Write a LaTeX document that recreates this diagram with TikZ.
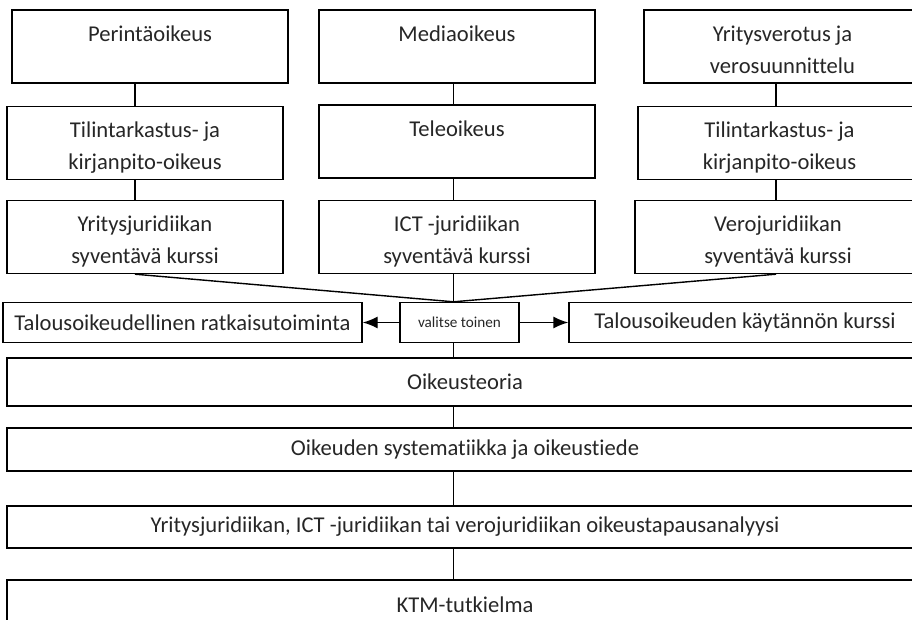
\documentclass[tikz,border=0pt]{standalone}
\usepackage{fontspec}
\setmainfont{Carlito}[Ligatures=NoCommon]
\usetikzlibrary{arrows.meta}
\newcommand{\topstrut}{\rule{0pt}{15.5pt}}

\begin{document}
\begin{tikzpicture}[x=0.5pt, y=-0.5pt, line width=0.7pt,
  box/.style={draw, rectangle, inner sep=0pt, align=center, text=black!85,
    font=\fontsize{11.3}{16}\selectfont},
  colbox/.style={box, minimum width=138pt, minimum height=36.5pt},
  widebox/.style={box, minimum width=458pt},
  pick/.style={-{Latex[length=7.5pt,width=6pt]}}]
\useasboundingbox (0,0) rectangle (912,620);
\clip (0,0) rectangle (912,620);

\coordinate (c1) at (135,0);
\coordinate (c2) at (453.5,0);
\coordinate (c3) at (776,0);

% columns
\draw (150,46.5) node[colbox] (perin) {\topstrut Perintäoikeus\\\strut};
\draw (145,143) node[colbox] (tilin1) {\topstrut Tilintarkastus- ja\\\strut kirjanpito-oikeus};
\draw (145,237) node[colbox] (yrjur) {\topstrut Yritysjuridiikan\\\strut syventävä kurssi};

\draw (457,46.5) node[colbox] (media) {\topstrut Mediaoikeus\\\strut};
\draw (457,141.5) node[colbox] (tele) {\topstrut Teleoikeus\\\strut};
\draw (457,237) node[colbox] (ictjur) {\topstrut ICT -juridiikan\\\strut syventävä kurssi};

\draw (782.5,46.5) node[colbox, minimum width=138.5pt] (yrver) {\topstrut Yritysverotus ja\\\strut verosuunnittelu};
\draw (779.5,143) node[colbox, minimum width=141.5pt] (tilin3) {\topstrut Tilintarkastus- ja\\\strut kirjanpito-oikeus};
\draw (778,237) node[colbox, minimum width=143pt] (verojur) {\topstrut Verojuridiikan\\\strut syventävä kurssi};

\draw (perin.south -| c1) -- (tilin1.north -| c1);
\draw (tilin1.south -| c1) -- (yrjur.north -| c1);
\draw (media.south -| c2) -- (tele.north -| c2);
\draw (tele.south -| c2) -- (ictjur.north -| c2);
\draw (yrver.south -| c3) -- (tilin3.north -| c3);
\draw (tilin3.south -| c3) -- (verojur.north -| c3);

% choice
\draw (459.5,322.5) node[box, minimum width=59.5pt, minimum height=20pt,
  font=\fontsize{7.6}{9}\selectfont] (valitse) {valitse toinen};
\draw (182.5,322.5) node[box, minimum width=179.5pt, minimum height=20pt] (ratk) {Talousoikeudellinen ratkaisutoiminta};
\draw (745,322.5) node[box, minimum width=176pt, minimum height=20pt] (kaytto) {Talousoikeuden käytännön kurssi};

\draw (yrjur.south -| c1) -- (valitse.north -| c2);
\draw (ictjur.south -| c2) -- (valitse.north -| c2);
\draw (verojur.south -| c3) -- (valitse.north -| c2);
\draw [pick] (valitse.west) -- (ratk.east);
\draw [pick] (valitse.east) -- (kaytto.west);

% common part
\draw (465,382) node[widebox, minimum height=24pt] (teoria) {Oikeusteoria};
\draw (465,449.5) node[widebox, minimum height=21.5pt] (system) {Oikeuden systematiikka ja oikeustiede};
\draw (465,527) node[widebox, minimum height=21pt] (analyysi) {Yritysjuridiikan, ICT -juridiikan tai verojuridiikan oikeustapausanalyysi};
\draw (465,605) node[widebox, minimum height=25pt] (ktm) {KTM-tutkielma};

\draw (valitse.south -| c2) -- (teoria.north -| c2);
\draw (teoria.south -| c2) -- (system.north -| c2);
\draw (system.south -| c2) -- (analyysi.north -| c2);
\draw (analyysi.south -| c2) -- (ktm.north -| c2);

\end{tikzpicture}
\end{document}
